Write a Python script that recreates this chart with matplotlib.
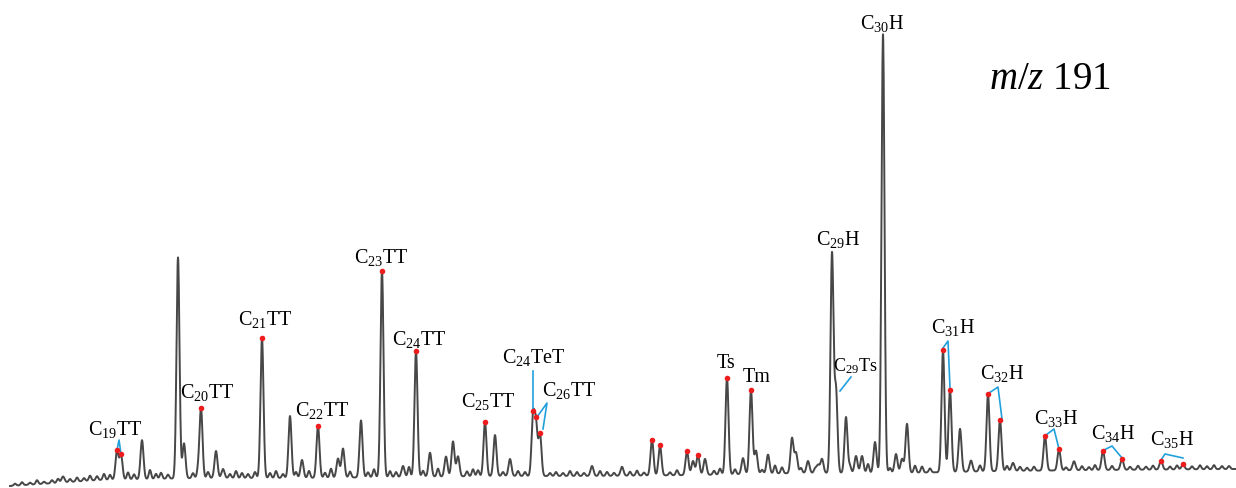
import numpy as np
import matplotlib
matplotlib.use("Agg")
import matplotlib.pyplot as plt

plt.rcParams['font.family'] = ['Liberation Serif', 'DejaVu Serif']
plt.rcParams['mathtext.fontset'] = 'custom'
plt.rcParams['mathtext.rm'] = 'Liberation Serif'
plt.rcParams['mathtext.it'] = 'Liberation Serif:italic'

# Retention axis in scan units, intensity in arbitrary units
BASE_X = [10, 100, 200, 300, 400, 500, 600, 700, 800, 900, 1000, 1100, 1236]
BASE_Y = [2, 8, 10, 10, 11, 12, 12, 13, 15, 15, 17, 18, 19]

# main peaks: retention, height above baseline
PEAK_X = [63, 117, 121, 142, 178, 184, 201, 216, 223, 262, 290, 302, 318, 338, 343,
          361, 382, 403, 416, 430, 446, 453, 458, 485, 495, 510, 533, 536, 540,
          592, 622, 652, 660, 687, 693, 698, 705, 727, 743, 751, 756, 768, 792,
          796, 808, 818, 822, 832, 836, 846, 856, 862, 875, 883, 896, 902, 907,
          943, 950, 960, 971, 988, 1000, 1013, 1045, 1059, 1074, 1103, 1122,
          1161, 1183]
PEAK_H = [6, 29, 25, 39, 221, 35, 70, 27, 9, 140, 62, 18, 52, 19, 29,
          57, 207, 11, 126, 24, 20, 35, 20, 54, 41, 17, 58, 50, 42,
          10, 9, 36, 30, 24, 14, 20, 16, 97, 16, 84, 23, 19, 35,
          20, 12, 8, 14, 219, 82, 56, 17, 17, 31, 439, 19, 14, 49,
          122, 82, 43, 11, 77, 51, 8, 35, 21, 9, 19, 11,
          9, 5]

# baseline ripple
NOISE_X = [15, 22, 30, 37, 44, 52, 58, 70, 77, 84, 90, 97, 104, 110, 128, 134, 150,
           156, 161, 168, 193, 198, 208, 230, 236, 242, 248, 255, 270, 276, 283, 296,
           309, 325, 331, 350, 368, 374, 390, 396, 409, 423, 438, 467, 473, 478, 503,
           518, 525, 550, 556, 563, 570, 577, 584, 600, 607, 614, 630, 637, 644, 670,
           677, 714, 720, 735, 762, 775, 782, 801, 815, 850, 868, 890, 915, 922, 930,
           980, 1007, 1020, 1027, 1034, 1066, 1082, 1089, 1095, 1112, 1130, 1138,
           1146, 1153, 1170, 1177, 1192, 1200, 1207, 1214, 1222, 1229]
NOISE_H = [2, 3, 2, 4, 2, 3, 4, 3, 4, 3, 5, 4, 6, 5, 7, 5, 9,
           5, 6, 4, 5, 7, 6, 4, 7, 5, 4, 6, 5, 7, 4, 6,
           7, 5, 9, 6, 5, 8, 6, 5, 10, 6, 8, 5, 7, 6, 4,
           5, 4, 3, 4, 3, 5, 4, 3, 5, 4, 3, 4, 5, 3, 3,
           5, 4, 6, 5, 4, 8, 6, 5, 4, 7, 9, 5, 7, 6, 4,
           6, 5, 4, 3, 4, 3, 4, 3, 5, 4, 3, 4,
           3, 4, 3, 4, 3, 4, 3, 4, 3, 3]

MARKED_X = [117, 121, 201, 262, 318, 382, 416, 485, 533, 536, 540, 652, 660, 687,
            698, 727, 751, 943, 950, 988, 1000, 1045, 1059, 1103, 1122, 1161, 1183]

LABELS = [(r'C$_{19}$TT', 115, 430), (r'C$_{20}$TT', 207, 393), (r'C$_{21}$TT', 265, 320),
          (r'C$_{22}$TT', 322, 411), (r'C$_{23}$TT', 381, 258), (r'C$_{24}$TT', 419, 340),
          (r'C$_{25}$TT', 488, 402), (r'C$_{24}$TeT', 534, 358), (r'C$_{26}$TT', 569, 391),
          ('Ts', 726, 364), ('Tm', 757, 378), (r'C$_{29}$H', 838, 240),
          (r'C$_{30}$H', 882, 24), (r'C$_{31}$H', 953, 328), (r'C$_{32}$H', 1002, 374),
          (r'C$_{33}$H', 1056, 419), (r'C$_{34}$H', 1113, 434), (r'C$_{35}$H', 1172, 440)]

# leader lines (image coords: x, y from top)
LEADERS = [[(117, 451), (119, 441), (121, 455)],
           [(533, 372), (533, 414)],
           [(537, 418), (547, 404), (543, 430)],
           [(840, 392), (851, 378)],
           [(943, 349), (948, 342), (950, 389)],
           [(989, 394), (998, 388), (1002, 420)],
           [(1046, 436), (1054, 430), (1059, 450)],
           [(1104, 451), (1112, 447), (1122, 459)],
           [(1161, 461), (1165, 455), (1183, 459)]]

H = 489
x = np.linspace(10, 1236, 6000)
y = np.interp(x, BASE_X, BASE_Y)
for px, ph in zip(PEAK_X, PEAK_H):
    y += ph * np.exp(-0.5 * ((x - px) / 1.5) ** 2)
for px, ph in zip(NOISE_X, NOISE_H):
    y += ph * np.exp(-0.5 * ((x - px) / 1.2) ** 2)

fig = plt.figure(figsize=(12.36, 4.89), dpi=100)
ax = fig.add_axes([0, 0, 1, 1])
ax.set_xlim(0, 1236)
ax.set_ylim(0, H)
ax.axis('off')

ax.plot(x, y, color='#474747', lw=1.4)

for seg in LEADERS:
    ax.plot([p[0] for p in seg], [H - p[1] for p in seg], color='#22a0dc', lw=1.2)

mx = np.array(MARKED_X)
ax.plot(mx, np.interp(mx, x, y), 'o', color='#ee1c1c', ms=4, mec='none')

for txt, tx, ty in LABELS:
    ax.text(tx, H - ty, txt, fontsize=14.5, ha='center', va='center')
ax.text(855, H - 366, r'C$_{29}$Ts', fontsize=13, ha='center', va='center')

ax.text(1050, H - 80, r'$\it{m/z}$ 191', fontsize=28, ha='center', va='center')

fig.savefig('out.png', dpi=100)
